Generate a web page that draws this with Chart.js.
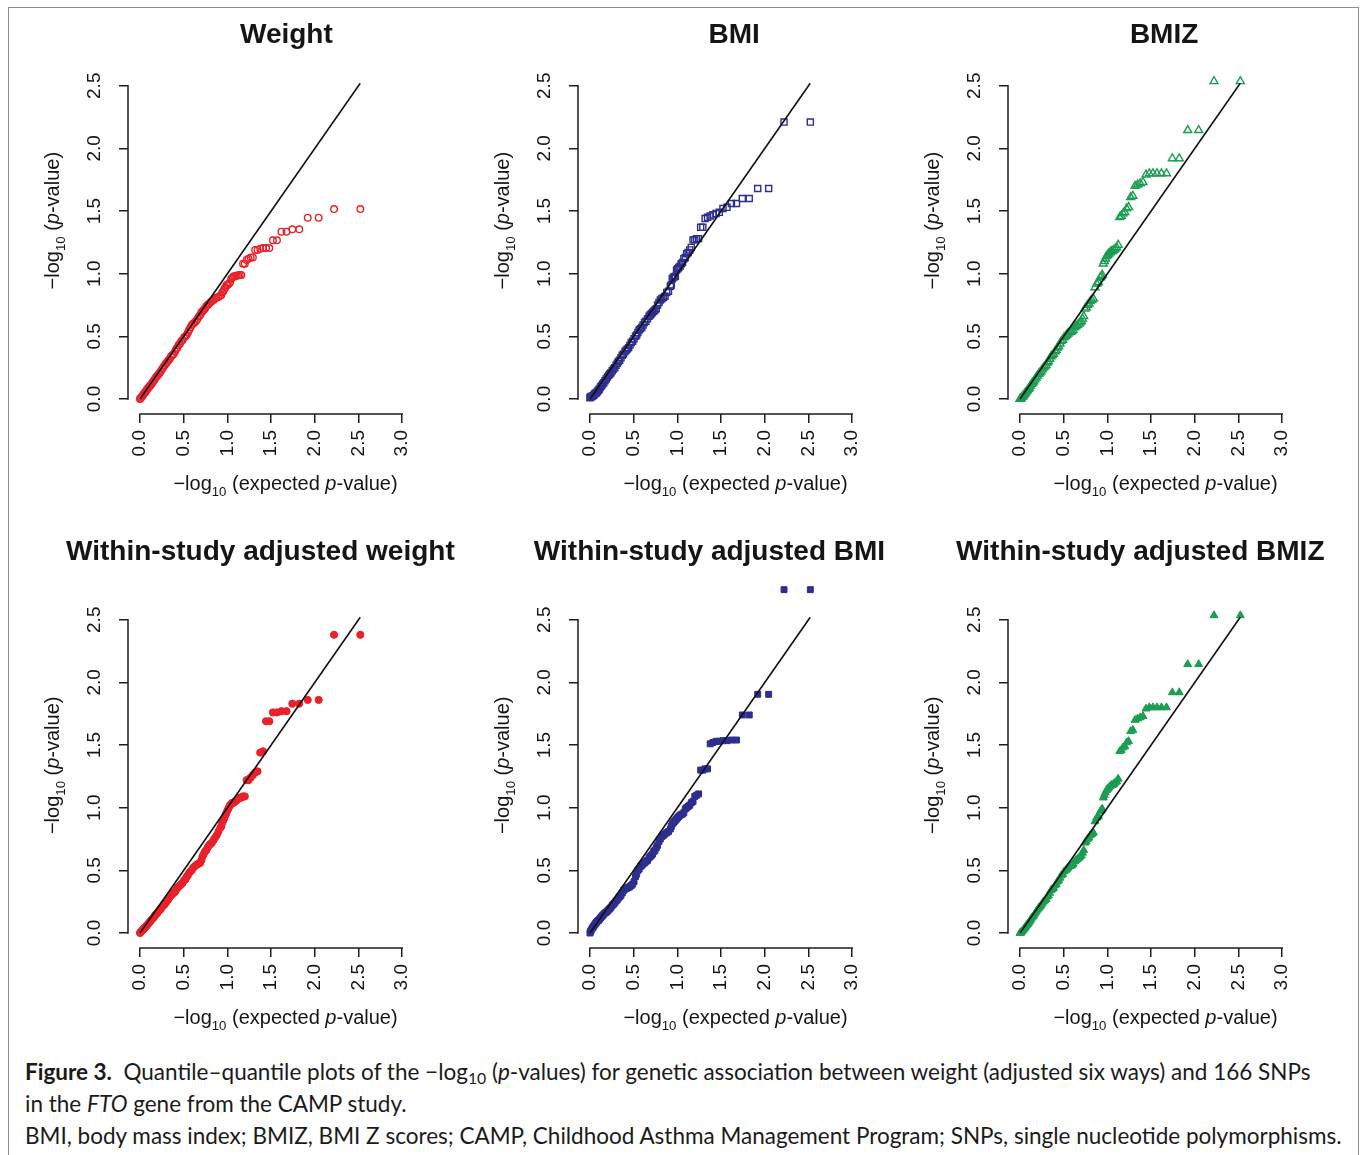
<!DOCTYPE html>
<html>
<head>
<meta charset="utf-8">
<script src="https://cdn.jsdelivr.net/npm/chart.js@4.4.1/dist/chart.umd.min.js"></script>
<style>
html,body{margin:0;padding:0;background:#fff;}
#fig{position:relative;width:1362px;height:1155px;overflow:hidden;background:#fff;}
#frame{position:absolute;left:8px;top:7px;width:1351px;height:1160px;border:1px solid #8c8c8c;box-sizing:border-box;}
canvas.panel{position:absolute;}
#caption{position:absolute;left:25px;top:1056px;font-family:'Lato','Open Sans',sans-serif;font-size:22.5px;line-height:32px;color:#1a1a1a;white-space:nowrap;}
#caption sub{font-size:0.7em;vertical-align:-0.25em;line-height:0;}
</style>
</head>
<body>
<div id="fig">
  <div id="frame"></div>
  <canvas class="panel" id="p0"></canvas>
  <canvas class="panel" id="p1"></canvas>
  <canvas class="panel" id="p2"></canvas>
  <canvas class="panel" id="p3"></canvas>
  <canvas class="panel" id="p4"></canvas>
  <canvas class="panel" id="p5"></canvas>
  <div id="caption">
    <div><b>Figure 3.</b>&nbsp; Quantile–quantile plots of the −log<sub>10</sub> (<i>p</i>-values) for genetic association between weight (adjusted six ways) and 166 SNPs</div>
    <div>in the <i>FTO</i> gene from the CAMP study.</div>
    <div>BMI, body mass index; BMIZ, BMI Z scores; CAMP, Childhood Asthma Management Program; SNPs, single nucleotide polymorphisms.</div>
  </div>
</div>
<script>
// ---------------- data ----------------
const titles = ['Weight', 'BMI', 'BMIZ', 'Within-study adjusted weight', 'Within-study adjusted BMI', 'Within-study adjusted BMIZ'];
const xTicks = [0, 0.5, 1, 1.5, 2, 2.5, 3];
const yTicks = [0, 0.5, 1, 1.5, 2, 2.5];
const refLine = [0, 2.52];

// expected -log10(p): x positions of the plotted quantiles
const expected = [2.521, 2.220, 2.044, 1.919, 1.822, 1.743, 1.676, 1.618, 1.567, 1.521,
  1.480, 1.442, 1.407, 1.375, 1.345, 1.317, 1.291, 1.266, 1.242, 1.220,
  1.199, 1.179, 1.159, 1.141, 1.123, 1.106, 1.090, 1.074, 1.059, 1.044,
  1.030, 1.016, 1.003, 0.990, 0.977, 0.965, 0.953, 0.941, 0.930, 0.919,
  0.898, 0.878, 0.858, 0.840, 0.822, 0.805, 0.789, 0.773, 0.758, 0.743,
  0.729, 0.715, 0.702, 0.689, 0.676, 0.658, 0.640, 0.624, 0.607, 0.592,
  0.577, 0.562, 0.548, 0.534, 0.521, 0.504, 0.488, 0.472, 0.457, 0.442,
  0.428, 0.414, 0.401, 0.384, 0.369, 0.354, 0.339, 0.325, 0.312, 0.298,
  0.283, 0.268, 0.254, 0.240, 0.227, 0.214, 0.199, 0.185, 0.171, 0.158,
  0.145, 0.132, 0.120, 0.108, 0.096, 0.085, 0.074, 0.063, 0.053, 0.043,
  0.033, 0.023, 0.013, 0.004, 0.000];

const weightObs = [1.516, 1.516, 1.447, 1.447, 1.354, 1.354, 1.335, 1.335, 1.266, 1.266,
  1.205, 1.205, 1.205, 1.20, 1.19, 1.19, 1.13, 1.13, 1.12, 1.11,
  1.08, 1.08, 0.99, 0.99, 0.985, 0.985, 0.98, 0.98, 0.97, 0.96,
  0.93, 0.92, 0.91, 0.91, 0.89, 0.88, 0.86, 0.85, 0.83, 0.825,
  0.815, 0.81, 0.80, 0.79, 0.78, 0.77, 0.76, 0.75, 0.74, 0.72,
  0.71, 0.70, 0.69, 0.67, 0.66, 0.64, 0.62, 0.61, 0.60, 0.59,
  0.57, 0.55, 0.53, 0.51, 0.50, 0.49, 0.47, 0.46, 0.44, 0.43,
  0.41, 0.40, 0.38, 0.36, 0.35, 0.34, 0.32, 0.31, 0.295, 0.285,
  0.27, 0.255, 0.24, 0.225, 0.21, 0.20, 0.185, 0.175, 0.16, 0.145,
  0.135, 0.12, 0.11, 0.10, 0.09, 0.08, 0.07, 0.055, 0.05, 0.04,
  0.03, 0.02, 0.01, 0.005, 0.0];

const bmiObs = [2.21, 2.21, 1.68, 1.68, 1.60, 1.60, 1.56, 1.56, 1.53, 1.52,
  1.49, 1.48, 1.47, 1.46, 1.45, 1.44, 1.37, 1.37, 1.28, 1.28,
  1.27, 1.27, 1.21, 1.19, 1.17, 1.16, 1.13, 1.12, 1.09, 1.08,
  1.06, 1.05, 1.04, 1.03, 0.98, 0.975, 0.97, 0.96, 0.91, 0.90,
  0.86, 0.85, 0.82, 0.81, 0.80, 0.79, 0.77, 0.75, 0.72, 0.71,
  0.70, 0.69, 0.68, 0.67, 0.66, 0.64, 0.62, 0.61, 0.59, 0.57,
  0.56, 0.55, 0.53, 0.51, 0.50, 0.48, 0.46, 0.45, 0.43, 0.41,
  0.40, 0.39, 0.38, 0.36, 0.35, 0.33, 0.31, 0.30, 0.285, 0.27,
  0.25, 0.24, 0.225, 0.21, 0.20, 0.19, 0.175, 0.16, 0.145, 0.13,
  0.12, 0.105, 0.095, 0.08, 0.07, 0.06, 0.05, 0.045, 0.04, 0.03,
  0.025, 0.02, 0.02, 0.015, 0.01];

const bmizObs = [2.535, 2.535, 2.145, 2.145, 1.92, 1.92, 1.80, 1.80, 1.80, 1.80,
  1.80, 1.79, 1.73, 1.72, 1.71, 1.70, 1.62, 1.61, 1.53, 1.52,
  1.49, 1.48, 1.46, 1.45, 1.23, 1.21, 1.20, 1.19, 1.18, 1.18,
  1.17, 1.16, 1.15, 1.14, 1.12, 1.10, 1.08, 0.99, 0.98, 0.97,
  0.93, 0.92, 0.89, 0.80, 0.79, 0.78, 0.76, 0.75, 0.73, 0.72,
  0.66, 0.64, 0.62, 0.61, 0.60, 0.59, 0.58, 0.57, 0.55, 0.54,
  0.535, 0.53, 0.52, 0.51, 0.50, 0.49, 0.47, 0.46, 0.44, 0.42,
  0.41, 0.39, 0.38, 0.36, 0.35, 0.34, 0.32, 0.30, 0.29, 0.27,
  0.26, 0.25, 0.235, 0.22, 0.21, 0.20, 0.185, 0.17, 0.155, 0.14,
  0.13, 0.12, 0.105, 0.09, 0.08, 0.07, 0.06, 0.05, 0.04, 0.03,
  0.02, 0.015, 0.005, 0.0, 0.0];

const adjWeightObs = [2.38, 2.38, 1.86, 1.86, 1.83, 1.83, 1.77, 1.77, 1.76, 1.76,
  1.69, 1.69, 1.45, 1.44, 1.29, 1.28, 1.26, 1.24, 1.22, 1.22,
  1.09, 1.09, 1.08, 1.08, 1.07, 1.06, 1.05, 1.04, 1.04, 1.03,
  1.02, 1.00, 0.98, 0.96, 0.94, 0.92, 0.90, 0.88, 0.85, 0.84,
  0.81, 0.78, 0.76, 0.74, 0.72, 0.71, 0.70, 0.68, 0.66, 0.65,
  0.63, 0.61, 0.58, 0.56, 0.555, 0.55, 0.54, 0.53, 0.52, 0.50,
  0.49, 0.48, 0.46, 0.45, 0.43, 0.42, 0.40, 0.39, 0.38, 0.37,
  0.36, 0.345, 0.33, 0.32, 0.31, 0.30, 0.285, 0.27, 0.26, 0.245,
  0.23, 0.22, 0.21, 0.195, 0.185, 0.175, 0.16, 0.15, 0.14, 0.125,
  0.115, 0.105, 0.095, 0.085, 0.075, 0.065, 0.055, 0.05, 0.04, 0.035,
  0.025, 0.02, 0.01, 0.005, 0.0];

const adjBmiObs = [2.74, 2.74, 1.905, 1.905, 1.74, 1.74, 1.54, 1.54, 1.535, 1.535,
  1.53, 1.53, 1.52, 1.51, 1.31, 1.31, 1.30, 1.30, 1.11, 1.10,
  1.09, 1.05, 1.04, 1.02, 1.01, 1.00, 0.99, 0.96, 0.95, 0.945,
  0.94, 0.93, 0.92, 0.91, 0.90, 0.89, 0.88, 0.87, 0.85, 0.83,
  0.81, 0.80, 0.79, 0.78, 0.77, 0.75, 0.73, 0.70, 0.68, 0.66,
  0.65, 0.63, 0.62, 0.61, 0.60, 0.58, 0.57, 0.56, 0.55, 0.54,
  0.53, 0.51, 0.50, 0.47, 0.45, 0.41, 0.39, 0.38, 0.37, 0.365,
  0.36, 0.355, 0.35, 0.34, 0.32, 0.30, 0.29, 0.28, 0.265, 0.255,
  0.24, 0.23, 0.22, 0.205, 0.195, 0.185, 0.175, 0.165, 0.16, 0.15,
  0.14, 0.13, 0.12, 0.11, 0.10, 0.095, 0.085, 0.075, 0.065, 0.055,
  0.045, 0.035, 0.02, 0.01, 0.0];

const adjBmizObs = [2.535, 2.535, 2.145, 2.145, 1.92, 1.92, 1.80, 1.80, 1.80, 1.80,
  1.80, 1.79, 1.73, 1.72, 1.71, 1.70, 1.62, 1.61, 1.53, 1.52,
  1.49, 1.48, 1.46, 1.45, 1.23, 1.21, 1.20, 1.19, 1.18, 1.18,
  1.17, 1.16, 1.15, 1.14, 1.12, 1.10, 1.08, 0.99, 0.98, 0.97,
  0.93, 0.92, 0.89, 0.80, 0.79, 0.78, 0.76, 0.75, 0.73, 0.72,
  0.66, 0.64, 0.62, 0.61, 0.60, 0.59, 0.58, 0.57, 0.55, 0.54,
  0.535, 0.53, 0.52, 0.51, 0.50, 0.49, 0.47, 0.46, 0.44, 0.42,
  0.41, 0.39, 0.38, 0.36, 0.35, 0.34, 0.32, 0.30, 0.29, 0.27,
  0.26, 0.25, 0.235, 0.22, 0.21, 0.20, 0.185, 0.17, 0.155, 0.14,
  0.13, 0.12, 0.105, 0.09, 0.08, 0.07, 0.06, 0.05, 0.04, 0.03,
  0.02, 0.015, 0.005, 0.0, 0.0];

const observed = [weightObs, bmiObs, bmizObs, adjWeightObs, adjBmiObs, adjBmizObs];

// ---------------- styling / layout ----------------
const RED = '#e8212b', BLUE = '#2d2e8e', GREEN = '#1c9d52';
const FONT = '"Liberation Sans", Arial, Helvetica, sans-serif';
const PX_X = 87.4, PX_Y = 125.3;              // pixels per unit
const OX = 135, OY = 399, CW = 455, CH = 510; // data origin inside each canvas
const chartL = 123, chartB = 414, chartT = 36, chartR = 428;
const AXW = 60, AXH = 60;

const panelSpecs = [
  {x0: 140, y0: 399, color: RED,   style: 'circle',   filled: false, r: 3.3, bw: 1.4, tdx: 146.4, tdy: -356.5, ytdy: -178.3},
  {x0: 590, y0: 399, color: BLUE,  style: 'rect',     filled: false, r: 4.3, bw: 1.4, tdx: 144.1, tdy: -356.5, ytdy: -178.3},
  {x0: 1020, y0: 399, color: GREEN, style: 'triangle', filled: false, r: 4.6, bw: 1.4, tdx: 144.1, tdy: -356.5, ytdy: -178.3},
  {x0: 140, y0: 933, color: RED,   style: 'circle',   filled: true,  r: 3.6, bw: 1,   tdx: 120.4, tdy: -373.5, ytdy: -167.7},
  {x0: 590, y0: 933, color: BLUE,  style: 'rect',     filled: true,  r: 4.2, bw: 1,   tdx: 119.5, tdy: -373.5, ytdy: -167.7},
  {x0: 1020, y0: 933, color: GREEN, style: 'triangle', filled: true,  r: 4.6, bw: 1,   tdx: 120.3, tdy: -373.5, ytdy: -167.7}
];

const xLabelParts = [{t: '\u2212log'}, {t: '10', sub: true}, {t: ' (expected '}, {t: 'p', it: true}, {t: '-value)'}];
const yLabelParts = [{t: '\u2212log'}, {t: '10', sub: true}, {t: ' ('}, {t: 'p', it: true}, {t: '-value)'}];

function drawMixed(ctx, parts, cx, cy, angle, size) {
  ctx.save();
  ctx.translate(cx, cy);
  ctx.rotate(angle);
  const fonts = parts.map(p => (p.it ? 'italic ' : '') + (p.sub ? (size * 0.66).toFixed(1) : size) + 'px ' + FONT);
  const widths = parts.map((p, i) => { ctx.font = fonts[i]; return ctx.measureText(p.t).width; });
  const total = widths.reduce((a, b) => a + b, 0);
  let xx = -total / 2;
  ctx.textAlign = 'left';
  ctx.textBaseline = 'alphabetic';
  ctx.fillStyle = '#151515';
  parts.forEach((p, i) => {
    ctx.font = fonts[i];
    ctx.fillText(p.t, xx, p.sub ? size * 0.32 : 0);
    xx += widths[i];
  });
  ctx.restore();
}

const rStyle = {
  id: 'rStyle',
  afterDraw(chart, args, opts) {
    const {ctx, chartArea: a, scales: {x, y}} = chart;
    ctx.save();
    ctx.strokeStyle = '#1e1e1e';
    ctx.lineWidth = 1.5;
    ctx.lineCap = 'square';
    ctx.beginPath();
    ctx.moveTo(x.getPixelForValue(xTicks[0]), a.bottom);
    ctx.lineTo(x.getPixelForValue(xTicks[xTicks.length - 1]), a.bottom);
    ctx.moveTo(a.left, y.getPixelForValue(yTicks[0]));
    ctx.lineTo(a.left, y.getPixelForValue(yTicks[yTicks.length - 1]));
    ctx.stroke();
    const ox = x.getPixelForValue(0), oy = y.getPixelForValue(0);
    ctx.fillStyle = '#151515';
    ctx.font = 'bold 28px ' + FONT;
    ctx.textAlign = 'center';
    ctx.textBaseline = 'alphabetic';
    ctx.fillText(opts.title, ox + opts.tdx, oy + opts.tdy);
    ctx.restore();
    drawMixed(ctx, xLabelParts, ox + 145.5, oy + 90.5, 0, 20);
    drawMixed(ctx, yLabelParts, ox - 81, oy + opts.ytdy, -Math.PI / 2, 20);
  }
};

panelSpecs.forEach((s, idx) => {
  const canvas = document.getElementById('p' + idx);
  canvas.width = CW; canvas.height = CH;
  canvas.style.width = CW + 'px'; canvas.style.height = CH + 'px';
  canvas.style.left = (s.x0 - OX) + 'px';
  canvas.style.top = (s.y0 - OY) + 'px';
  const obs = observed[idx];
  new Chart(canvas, {
    type: 'scatter',
    data: {
      datasets: [
        {
          data: refLine.map(v => ({x: v, y: v})),
          showLine: true, pointRadius: 0, borderColor: '#111', borderWidth: 1.6,
          order: 0, clip: false
        },
        {
          data: expected.map((x, i) => ({x: x, y: obs[i]})),
          pointStyle: s.style, pointRadius: s.r,
          pointBorderColor: s.color, borderColor: s.color,
          pointBackgroundColor: s.filled ? s.color : 'rgba(0,0,0,0)',
          backgroundColor: s.filled ? s.color : 'rgba(0,0,0,0)',
          pointBorderWidth: s.bw, order: 1, clip: false
        }
      ]
    },
    options: {
      responsive: false, animation: false, events: [],
      layout: {padding: {left: chartL - AXW, right: CW - chartR, top: chartT, bottom: CH - chartB - AXH}},
      plugins: {
        legend: {display: false}, tooltip: {enabled: false}, title: {display: false},
        rStyle: {title: titles[idx], tdx: s.tdx, tdy: s.tdy, ytdy: s.ytdy}
      },
      scales: {
        x: {
          type: 'linear', position: 'bottom',
          min: -(OX - chartL) / PX_X, max: (chartR - OX) / PX_X,
          afterBuildTicks: sc => { sc.ticks = xTicks.map(v => ({value: v})); },
          afterFit: sc => { sc.height = AXH; },
          ticks: {autoSkip: false, minRotation: 90, maxRotation: 90, padding: 7, color: '#151515',
                  font: {family: FONT, size: 19}, callback: v => Number(v).toFixed(1)},
          grid: {display: true, drawOnChartArea: false, drawTicks: true, tickLength: 9,
                 tickWidth: 1.5, tickColor: '#1e1e1e', color: '#1e1e1e', lineWidth: 1.5},
          border: {display: false}
        },
        y: {
          type: 'linear', position: 'left',
          min: -(chartB - OY) / PX_Y, max: (OY - chartT) / PX_Y,
          afterBuildTicks: sc => { sc.ticks = yTicks.map(v => ({value: v})); },
          afterFit: sc => { sc.width = AXW; },
          ticks: {autoSkip: false, minRotation: 90, maxRotation: 90, crossAlign: 'center', padding: 11,
                  color: '#151515', font: {family: FONT, size: 19}, callback: v => Number(v).toFixed(1)},
          grid: {display: true, drawOnChartArea: false, drawTicks: true, tickLength: 9,
                 tickWidth: 1.5, tickColor: '#1e1e1e', color: '#1e1e1e', lineWidth: 1.5},
          border: {display: false}
        }
      }
    },
    plugins: [rStyle]
  });
});
</script>
</body>
</html>
